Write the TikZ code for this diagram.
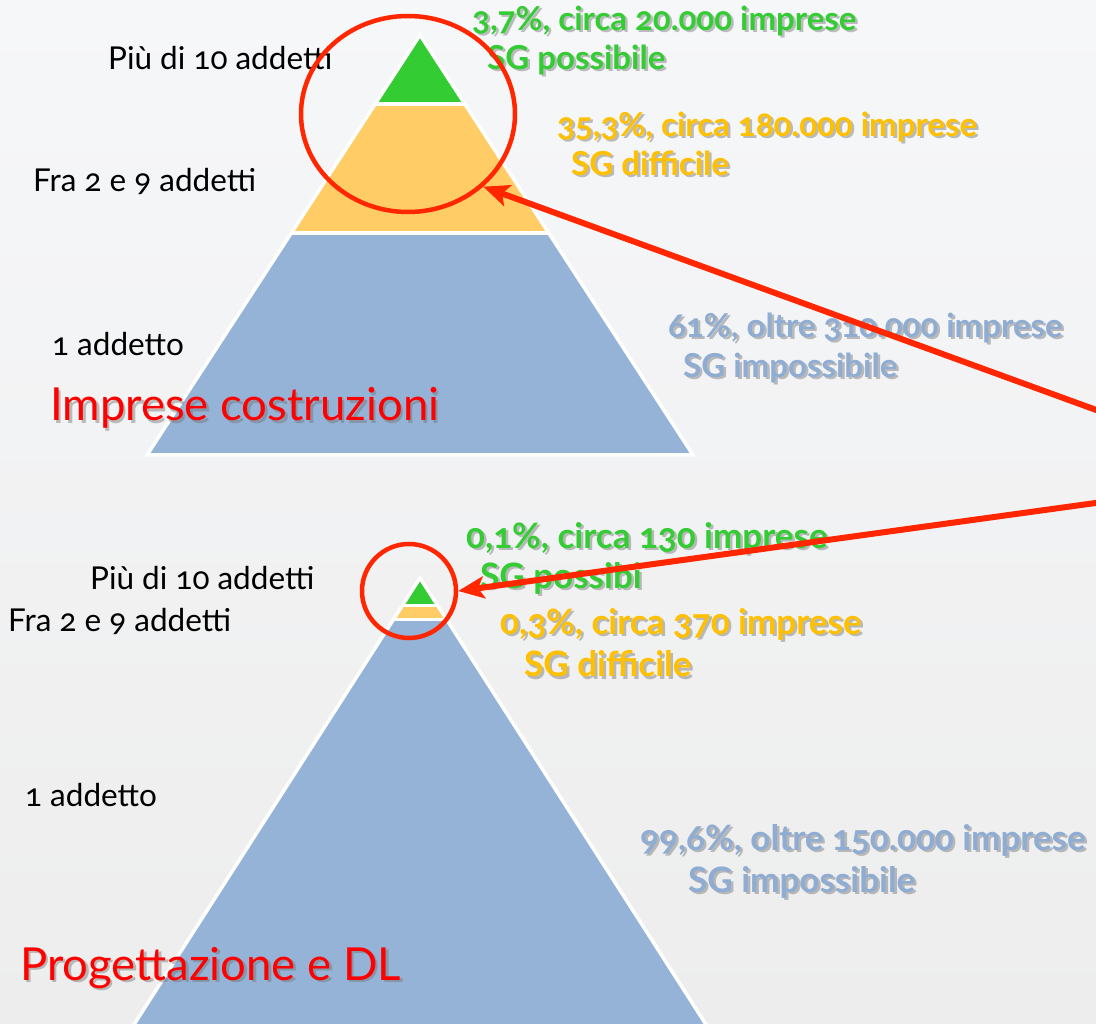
\documentclass[tikz,border=0pt]{standalone}
\usepackage{fontspec}
\setmainfont{Lato}[Numbers=OldStyle]
\usetikzlibrary{arrows.meta,calc,shapes.geometric}
\definecolor{bgtop}{RGB}{246,247,249}
\definecolor{bgbot}{RGB}{237,237,237}
\definecolor{pgreen}{RGB}{51,204,51}
\definecolor{porange}{RGB}{255,204,102}
\definecolor{torange}{RGB}{255,192,0}
\definecolor{pblue}{RGB}{149,179,215}
\definecolor{tblue}{RGB}{143,172,211}
\definecolor{ared}{RGB}{255,38,0}
\tikzset{
  blk/.style={inner sep=0pt, anchor=west, text=black, font=\fontsize{31.5}{35}\selectfont},
  big/.style={inner sep=0pt, anchor=west, text=red, font=\fontsize{45.5}{50}\selectfont},
  lab/.style={inner sep=0pt, anchor=west, font=\bfseries\fontsize{33}{37}\selectfont},
  labb/.style={inner sep=0pt, anchor=west, font=\bfseries\fontsize{35}{39}\selectfont},
  shd/.style={text=black!55, opacity=0.45},
  sep/.style={white, line width=4pt},
  ring/.style={draw=ared, line width=4.5pt, ellipse, inner sep=0pt},
  redarrow/.style={draw=ared, line width=6pt, -{Stealth[length=26pt,width=22pt,inset=6pt]}}
}
\newcommand{\shlabel}[4]{%
  \node[#2, shd] (#1sh) at ($#3+(2.5,2.5)$) {#4};
  \node[#2] (#1) at #3 {#4};}
\begin{document}
\begin{tikzpicture}[x=1pt,y=-1pt]
\useasboundingbox (0,0) rectangle (1096,1024);
\shade[top color=bgtop, bottom color=bgbot] (0,0) rectangle (1096,1024);

% top pyramid
\begin{scope}
  \clip (420,35) -- (693,455) -- (147,455) -- cycle;
  \fill[pblue] (100,30) rectangle (750,460);
  \fill[porange] (100,30) rectangle (750,233);
  \fill[pgreen] (100,30) rectangle (750,104);
\end{scope}
\draw[sep] (375,104) -- (465,104);
\draw[sep] (291,233) -- (549,233);
\draw[white, line width=3.5pt, line join=miter] (420,35) -- (693,455) -- (147,455) -- cycle;

% bottom pyramid
\begin{scope}
  \clip (420,578) -- (714,1037) -- (126,1037) -- cycle;
  \fill[pblue] (100,570) rectangle (750,1040);
  \fill[porange] (100,570) rectangle (750,619);
  \fill[pgreen] (100,570) rectangle (750,605);
\end{scope}
\draw[sep, line width=3pt] (402,605) -- (438,605);
\draw[sep, line width=3pt] (393,619) -- (447,619);
\draw[white, line width=3.5pt, line join=miter] (420,578) -- (714,1037) -- (126,1037) -- cycle;

% black labels
\node[blk] (t1) at (108,58) {Più di 10 addetti};
\node[blk] (t2) at (33,181) {Fra 2 e 9 addetti};
\node[blk] (t3) at (52,344) {1 addetto};
\node[blk] (b1) at (90,578) {Più di 10 addetti};
\node[blk] (b2) at (8,621) {Fra 2 e 9 addetti};
\node[blk] (b3) at (25,795) {1 addetto};

% titles
\shlabel{ti1}{big}{(50,408)}{Imprese costruzioni}
\shlabel{ti2}{big}{(20,968)}{Progettazione e DL}

% coloured labels, top
\shlabel{g1}{lab,text=pgreen}{(472,21)}{3,7\%, circa 20.000 imprese}
\shlabel{g2}{lab,text=pgreen}{(487,60)}{SG possibile}
\shlabel{o1}{lab,text=torange}{(557,127)}{35,3\%, circa 180.000 imprese}
\shlabel{o2}{lab,text=torange}{(571,163)}{SG difficile}
\shlabel{u1}{lab,text=tblue}{(668,328)}{61\%, oltre 310.000 imprese}
\shlabel{u2}{lab,text=tblue}{(683,368)}{SG impossibile}

% coloured labels, bottom
\shlabel{g3}{labb,text=pgreen}{(466,538)}{0,1\%, circa 130 imprese}
\shlabel{g4}{labb,text=pgreen}{(480,578)}{SG possibi}
\shlabel{o3}{labb,text=torange}{(500,624)}{0,3\%, circa 370 imprese}
\shlabel{o4}{labb,text=torange}{(524,664)}{SG difficile}
\shlabel{u3}{labb,text=tblue}{(640,840)}{99,6\%, oltre 150.000 imprese}
\shlabel{u4}{labb,text=tblue}{(688,882)}{SG impossibile}

% rings
\node[ring, minimum width=214pt, minimum height=196pt] (e1) at (408,114) {};
\node[ring, minimum width=94pt, minimum height=94pt] (e2) at (409,591) {};

% arrows
\coordinate (a1) at (1110,415);
\coordinate (a2) at (1110,501);
\draw[redarrow] (a1) -- (e1.-44);
\draw[redarrow] (a2) -- (e2.east);
\end{tikzpicture}
\end{document}
